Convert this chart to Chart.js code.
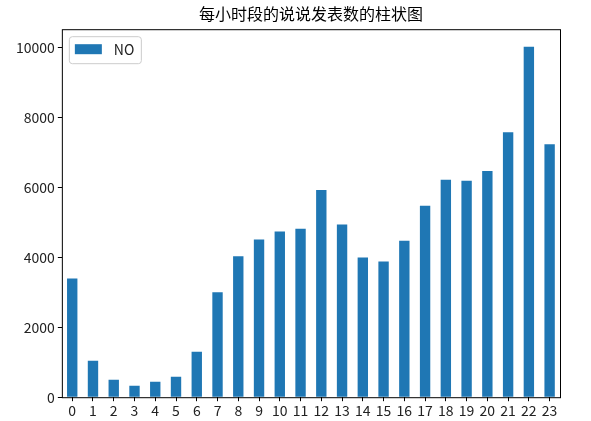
<!DOCTYPE html>
<html>
<head>
<meta charset="utf-8">
<script src="https://cdn.jsdelivr.net/npm/chart.js@4"></script>
<style>
  html, body { margin: 0; padding: 0; background: #fff; }
  #wrap { width: 591px; height: 421px; }
</style>
</head>
<body>
<div id="wrap"><canvas id="chart"></canvas></div>
<script>
const hours = ['0','1','2','3','4','5','6','7','8','9','10','11','12','13','14','15','16','17','18','19','20','21','22','23'];
const postCounts = [3400, 1040, 500, 330, 445, 585, 1300, 3000, 4030, 4510, 4740, 4820,
                    5930, 4940, 4000, 3885, 4480, 5480, 6220, 6190, 6475, 7580, 10030, 7240];
const yTicks = [0, 2000, 4000, 6000, 8000, 10000];
const seriesName = 'NO';
const chartTitle = '每小时段的说说发表数的柱状图';

const barColor = '#1f77b4';
const fontFamily = "'Noto Sans CJK SC', 'DejaVu Sans', sans-serif";

// frame around the plot area, like matplotlib spines
const frame = {
  id: 'frame',
  afterDatasetsDraw(chart) {
    const { ctx, chartArea: a } = chart;
    ctx.save();
    ctx.strokeStyle = '#000';
    ctx.lineWidth = 1;
    ctx.strokeRect(a.left + 0.5, a.top + 0.5, a.right - a.left, a.bottom - a.top);
    ctx.restore();
  }
};

// legend drawn inside the upper-left corner of the plot
const innerLegend = {
  id: 'innerLegend',
  afterDraw(chart) {
    const { ctx, chartArea: a } = chart;
    const x = a.left + 7, y = a.top + 7;
    ctx.save();
    ctx.fillStyle = 'rgba(255,255,255,0.8)';
    ctx.strokeStyle = '#cccccc';
    ctx.lineWidth = 1;
    roundRect(ctx, x + 0.5, y + 0.5, 72, 27, 3);
    ctx.fill();
    ctx.stroke();
    ctx.fillStyle = barColor;
    ctx.fillRect(x + 6, y + 8, 27, 10);
    ctx.fillStyle = '#222';
    ctx.font = '14px ' + fontFamily;
    ctx.textBaseline = 'middle';
    ctx.fillText(chart.data.datasets[0].label, x + 45, y + 13.5);
    ctx.restore();
  }
};

function roundRect(ctx, x, y, w, h, r) {
  ctx.beginPath();
  ctx.moveTo(x + r, y);
  ctx.lineTo(x + w - r, y);
  ctx.quadraticCurveTo(x + w, y, x + w, y + r);
  ctx.lineTo(x + w, y + h - r);
  ctx.quadraticCurveTo(x + w, y + h, x + w - r, y + h);
  ctx.lineTo(x + r, y + h);
  ctx.quadraticCurveTo(x, y + h, x, y + h - r);
  ctx.lineTo(x, y + r);
  ctx.quadraticCurveTo(x, y, x + r, y);
  ctx.closePath();
}

new Chart(document.getElementById('chart'), {
  type: 'bar',
  data: {
    labels: hours,
    datasets: [{
      label: seriesName,
      data: postCounts,
      backgroundColor: barColor,
      borderWidth: 0,
      categoryPercentage: 1,
      barPercentage: 0.5
    }]
  },
  options: {
    responsive: true,
    maintainAspectRatio: false,
    animation: false,
    layout: { padding: { left: 13, right: 31, top: 4, bottom: 1 } },
    plugins: {
      legend: { display: false },
      tooltip: { enabled: false },
      title: {
        display: true,
        text: chartTitle,
        fullSize: false,
        color: '#000',
        font: { family: fontFamily, size: 16, weight: 'normal' },
        padding: { top: 0, bottom: 6 }
      }
    },
    scales: {
      x: {
        grid: { drawOnChartArea: false, color: '#000', tickLength: 4, offset: false },
        border: { display: false },
        ticks: { color: '#222', font: { family: fontFamily, size: 14 }, maxRotation: 0, autoSkip: false, padding: 1 }
      },
      y: {
        min: 0,
        max: 10530,
        afterBuildTicks(axis) { axis.ticks = yTicks.map(v => ({ value: v })); },
        grid: { drawOnChartArea: false, color: '#000', tickLength: 4 },
        border: { display: false },
        ticks: { color: '#222', font: { family: fontFamily, size: 14 }, padding: 3, callback: v => String(v) }
      }
    }
  },
  plugins: [frame, innerLegend]
});
</script>
</body>
</html>
